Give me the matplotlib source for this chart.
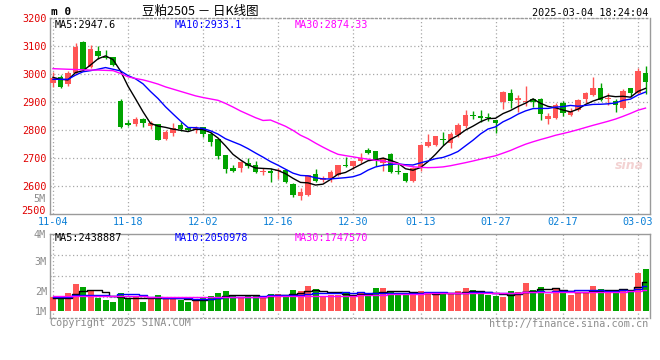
import matplotlib
matplotlib.use('Agg')
import matplotlib.pyplot as plt
import numpy as np
import pandas as pd
from matplotlib.transforms import blended_transform_factory

MONO = 'DejaVu Sans Mono'
CJK = ['Noto Sans CJK SC', 'DejaVu Sans']

# trading days, 2024-11-04 .. 2025-03-04 (new year / spring festival closed)
HOLIDAYS = ['2025-01-01', '2025-01-28', '2025-01-29', '2025-01-30', '2025-01-31',
            '2025-02-03', '2025-02-04']
days = [d for d in pd.bdate_range('2024-11-04', '2025-03-04')
        if d.strftime('%Y-%m-%d') not in HOLIDAYS]
day_labels = [d.strftime('%m-%d') for d in days]
TICK_DAYS = ['11-04', '11-18', '12-02', '12-16', '12-30', '01-13', '01-27', '02-17', '03-03']

opens = [2969, 2989, 2965, 3002, 3114, 3024, 3082, 3060, 3061, 2904,
         2824, 2823, 2839, 2816, 2820, 2769, 2789, 2817, 2806, 2799,
         2811, 2785, 2767, 2710, 2663, 2666, 2683, 2676, 2650, 2652,
         2652, 2656, 2606, 2564, 2567, 2642, 2620, 2630, 2638, 2676,
         2671, 2689, 2727, 2724, 2681, 2713, 2655, 2645, 2618, 2666,
         2743, 2746, 2769, 2752, 2781, 2814, 2854, 2850, 2848, 2837,
         2900, 2932, 2907, 2900, 2911, 2912, 2841, 2842, 2895, 2852,
         2871, 2910, 2924, 2950, 2910, 2904, 2879, 2949, 2933, 3005]
highs = [3006, 2996, 3011, 3109, 3118, 3104, 3101, 3086, 3061, 2911,
         2836, 2845, 2842, 2833, 2821, 2800, 2824, 2829, 2812, 2814,
         2812, 2793, 2767, 2710, 2674, 2689, 2701, 2688, 2666, 2666,
         2663, 2662, 2609, 2592, 2641, 2662, 2634, 2656, 2676, 2704,
         2689, 2719, 2736, 2725, 2705, 2717, 2677, 2648, 2669, 2750,
         2785, 2779, 2794, 2794, 2824, 2870, 2868, 2871, 2862, 2837,
         2939, 2945, 2925, 2957, 2913, 2914, 2862, 2898, 2904, 2880,
         2910, 2936, 2989, 2967, 2933, 2910, 2945, 2951, 3020, 3029]
lows = [2955, 2951, 2958, 3000, 3012, 3021, 3052, 3052, 3030, 2808,
        2814, 2816, 2812, 2804, 2764, 2764, 2779, 2796, 2796, 2789,
        2775, 2743, 2695, 2648, 2649, 2650, 2666, 2645, 2639, 2614,
        2624, 2612, 2562, 2550, 2564, 2614, 2614, 2614, 2636, 2668,
        2662, 2683, 2716, 2671, 2654, 2645, 2642, 2614, 2616, 2654,
        2740, 2744, 2746, 2736, 2775, 2807, 2838, 2829, 2832, 2788,
        2874, 2877, 2864, 2886, 2882, 2835, 2823, 2838, 2850, 2850,
        2868, 2896, 2921, 2904, 2889, 2866, 2876, 2918, 2930, 2927]
closes = [2987, 2954, 3005, 3098, 3014, 3089, 3065, 3057, 3032, 2811,
          2818, 2839, 2826, 2824, 2764, 2794, 2808, 2805, 2800, 2806,
          2787, 2757, 2707, 2660, 2654, 2687, 2671, 2650, 2652, 2647,
          2657, 2614, 2567, 2579, 2639, 2618, 2630, 2650, 2674, 2670,
          2689, 2699, 2719, 2692, 2699, 2650, 2649, 2618, 2666, 2746,
          2757, 2779, 2764, 2786, 2818, 2852, 2849, 2842, 2842, 2824,
          2936, 2904, 2913, 2902, 2900, 2858, 2849, 2888, 2862, 2866,
          2907, 2933, 2949, 2907, 2916, 2890, 2940, 2933, 3010, 2970]
# volume, millions of lots
volumes = [1.13, 1.06, 1.49, 2.32, 2.01, 1.65, 1.00, 0.82, 0.64, 1.49,
           0.97, 1.13, 0.64, 0.97, 1.28, 0.91, 1.06, 0.82, 0.64, 0.82,
           0.97, 1.19, 1.49, 1.65, 1.19, 1.06, 1.19, 1.19, 1.06, 1.37,
           1.37, 1.28, 1.74, 1.65, 2.10, 1.83, 1.06, 1.28, 1.28, 1.55,
           1.19, 1.46, 1.19, 1.92, 1.92, 1.65, 1.43, 1.28, 1.28, 1.65,
           1.55, 1.28, 1.46, 1.46, 1.65, 1.92, 1.74, 1.37, 1.31, 1.19,
           1.09, 1.65, 1.55, 2.38, 1.74, 2.01, 1.37, 1.92, 1.74, 1.28,
           1.46, 1.50, 2.10, 1.85, 1.55, 1.74, 1.83, 1.68, 3.30, 3.66]

# averages before the full window exists (needs history not on the chart)
ma5_head = [2988, 2981, 2979, 3005]
ma10_head = [2981, 2981, 2981, 2996, 3008, 3012, 3017, 3023, 3017]
ma30_head = [3019, 3018, 3017, 3016, 3015, 3014, 3014, 3013, 3012, 3002,
             2990, 2984, 2979, 2972, 2964, 2954, 2946, 2938, 2930, 2922,
             2916, 2911, 2906, 2895, 2882, 2868, 2856, 2844, 2834]
vma5_head = [0.97, 0.97, 0.97, 1.34]
vma10_head = [1.06, 1.06, 1.13, 1.25, 1.28, 1.28, 1.28, 1.25, 1.22]
vma30_head = [1.16] * 13 + [1.13] * 7 + [1.12] * 9

MA_LEGEND = ['MA5:2947.6', 'MA10:2933.1', 'MA30:2874.33']
VMA_LEGEND = ['MA5:2438887', 'MA10:2050978', 'MA30:1747570']

RED = '#ff5555'
GREEN = '#00a300'
GRID = '#a8a8a8'
FRAME = '#9a9a9a'
MA_COLORS = ['black', '#0000ff', '#ff00ff']
FS = 7.3


def moving_average(values, n, head):
    ma = pd.Series(values, dtype=float).rolling(n).mean().to_numpy()
    ma[:n - 1] = head
    return ma


def style_frame(ax, dotted_side):
    for side, sp in ax.spines.items():
        sp.set_color(FRAME)
        sp.set_linewidth(1.0)
        if side == dotted_side:
            sp.set_linestyle((0, (1, 2)))


def main():
    x = np.arange(len(closes))
    o, h, l, c = (np.array(a, dtype=float) for a in (opens, highs, lows, closes))
    up = c >= o
    colors = np.where(up, RED, GREEN)
    tick_idx = [day_labels.index(d) for d in TICK_DAYS]

    fig = plt.figure(figsize=(6.6, 3.6), dpi=100)
    W, H = 660.0, 360.0
    ax = fig.add_axes([50 / W, 1 - 214 / H, 600 / W, 196 / H])
    axv = fig.add_axes([50 / W, 1 - 318 / H, 600 / W, 84 / H])

    # candles
    body = np.maximum(np.abs(c - o), 1.5)
    ax.vlines(x, l, h, colors=colors, linewidth=1.0, zorder=3)
    ax.bar(x, body, bottom=np.minimum(o, c), width=0.78, color=colors,
           linewidth=0, zorder=4)
    for n, head, col in zip((5, 10, 30), (ma5_head, ma10_head, ma30_head), MA_COLORS):
        ax.plot(x, moving_average(closes, n, head), color=col, linewidth=1.0, zorder=5)

    ax.set_xlim(-0.4, 79.6)
    ax.set_ylim(2500, 3200)
    ax.set_yticks(range(2600, 3201, 100))
    ax.set_xticks(tick_idx)
    ax.set_xticklabels(TICK_DAYS)
    ax.tick_params(axis='y', length=0, pad=2.2, labelcolor='#e00000', labelsize=FS)
    ax.tick_params(axis='x', length=0, pad=2.5, labelcolor='#0a7fd6', labelsize=FS)
    for t in ax.get_xticklabels() + ax.get_yticklabels():
        t.set_family(MONO)
    ax.grid(True, color=GRID, linestyle=(0, (1, 2)), linewidth=0.9)
    style_frame(ax, 'top')
    # bottom price label sits just above the axis line so it clears the date row
    trp = blended_transform_factory(ax.transAxes, ax.transData)
    ax.text(-0.0075, 2509, '2500', transform=trp, color='#e00000', family=MONO,
            fontsize=FS, ha='right', va='center', clip_on=False)
    for xt, txt, col in zip((0.008, 0.207, 0.408), MA_LEGEND, MA_COLORS):
        ax.text(xt, 0.965, txt, transform=ax.transAxes, color=col, family=MONO,
                fontsize=FS, va='center', ha='left', zorder=6)
    ax.text(0.965, 0.245, 'sina', transform=ax.transAxes, color='#f3d2d2',
            fontsize=9, fontstyle='italic', fontweight='bold', ha='center', va='center')

    # volume
    vol = np.array(volumes)
    vol_floor = -0.19
    axv.bar(x, vol - vol_floor, bottom=vol_floor, width=0.8, color=colors,
            linewidth=0, zorder=3)
    for n, head, col in zip((5, 10, 30), (vma5_head, vma10_head, vma30_head), MA_COLORS):
        axv.plot(x, moving_average(volumes, n, head), color=col, linewidth=1.0,
                 drawstyle='steps-mid', zorder=4)
    ylo, yhi = -0.83, 6.87
    axv.set_xlim(-0.4, 79.6)
    axv.set_ylim(ylo, yhi)
    axv.set_xticks(tick_idx)
    axv.set_xticklabels([])
    axv.set_yticks([vol_floor, 1.64, 4.40])
    axv.set_yticklabels(['1M', '2M', '3M'])
    axv.tick_params(axis='y', length=0, pad=2.2, labelcolor='#8c8c8c', labelsize=FS)
    axv.tick_params(axis='x', length=0)
    for t in axv.get_yticklabels():
        t.set_family(MONO)
    axv.grid(True, axis='x', color=GRID, linestyle=(0, (1, 2)), linewidth=0.9)
    for f in (0.25, 0.5, 0.75):
        axv.axhline(ylo + f * (yhi - ylo), color=GRID, linestyle=(0, (1, 2)),
                    linewidth=0.9, zorder=1)
    style_frame(axv, 'bottom')
    tr = blended_transform_factory(axv.transAxes, axv.transData)
    for val, lab in ((6.75, '4M'), (10.1, '5M')):
        axv.text(-0.0075, val, lab, transform=tr, color='#8c8c8c', family=MONO,
                 fontsize=FS, ha='right', va='center', clip_on=False)
    for xt, txt, col in zip((0.008, 0.207, 0.408), VMA_LEGEND, MA_COLORS):
        axv.text(xt, 0.95, txt, transform=axv.transAxes, color=col, family=MONO,
                 fontsize=FS, va='center', ha='left', zorder=6)

    # header / footer
    fig.text(51 / W, 1 - 12 / H, 'm 0', family=MONO, fontweight='bold',
             fontsize=8, va='center', ha='left')
    fig.text(200 / W, 1 - 11 / H, '豆粕2505 － 日K线图', family=CJK,
             fontsize=9, va='center', ha='center')
    fig.text(648 / W, 1 - 12.5 / H, '2025-03-04 18:24:04', family=MONO,
             fontsize=FS, va='center', ha='right')
    fig.text(50 / W, 1 - 323 / H, 'Copyright 2025 SINA.COM', family=MONO,
             fontsize=FS, color='#8c8c8c', va='center', ha='left')
    fig.text(648 / W, 1 - 324 / H, 'http://finance.sina.com.cn', family=MONO,
             fontsize=FS, color='#8c8c8c', va='center', ha='right')

    fig.savefig('out.png', dpi=100, facecolor='white')


if __name__ == '__main__':
    main()
